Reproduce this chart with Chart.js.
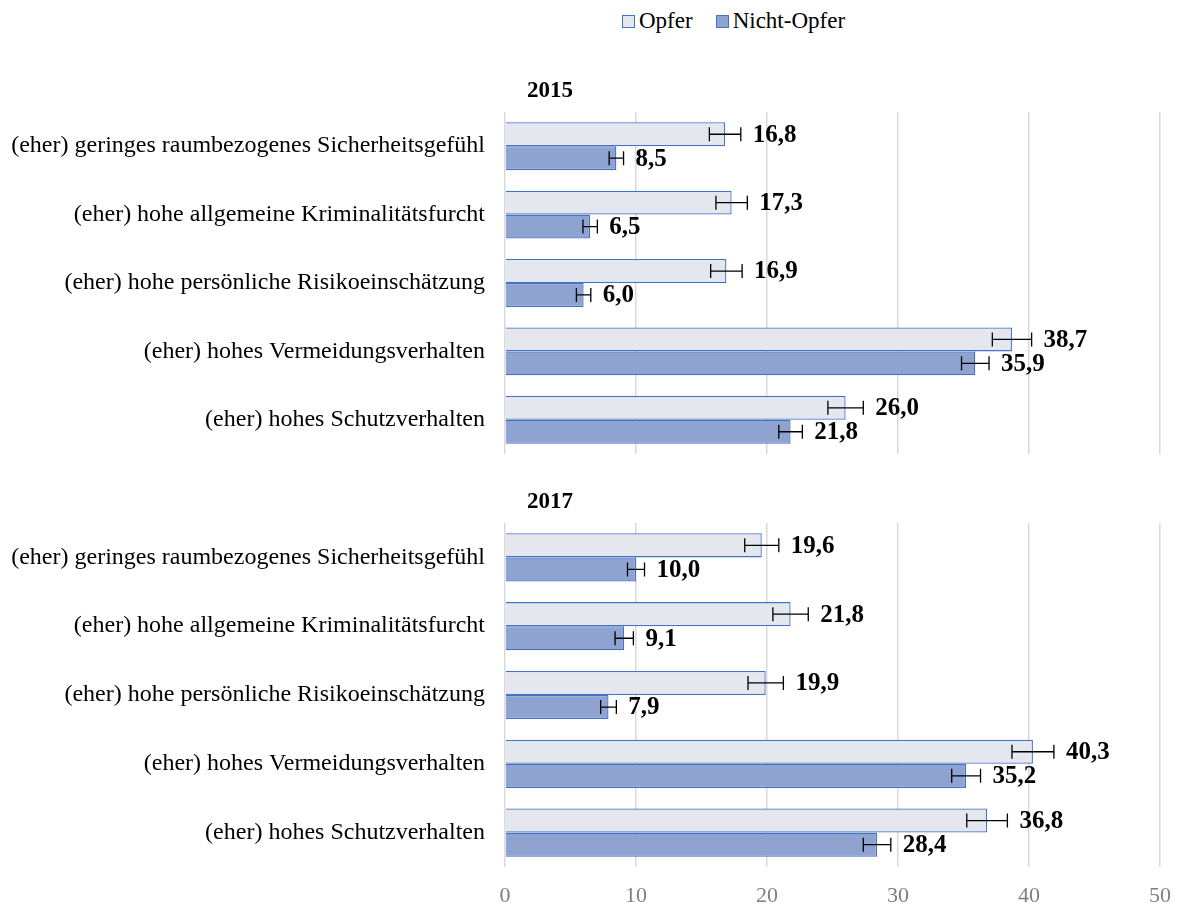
<!DOCTYPE html>
<html>
<head>
<meta charset="utf-8">
<script src="https://cdn.jsdelivr.net/npm/chart.js@4"></script>
<style>
  body { margin: 0; background: #fff; width: 1180px; height: 906px; position: relative; overflow: hidden; font-family: "Liberation Serif", serif; }
  .legend { position: absolute; top: 8px; left: 622px; font-size: 23px; display: flex; align-items: center; color: #000; }
  .legend .item { display: flex; align-items: center; margin-right: 23px; }
  .legend .box { width: 11px; height: 11px; border: 1px solid #4472c4; margin-right: 4px; }
  #top { position: absolute; left: 0; top: 60px; }
  #bottom { position: absolute; left: 0; top: 470px; }
</style>
</head>
<body>
<div class="legend">
  <div class="item"><span class="box" style="background:#e4e7ee"></span>Opfer</div>
  <div class="item"><span class="box" style="background:#8fa3d1"></span>Nicht-Opfer</div>
</div>
<canvas id="top" width="1180" height="433"></canvas>
<canvas id="bottom" width="1180" height="436"></canvas>
<script>
const categories = [
  "(eher) geringes raumbezogenes Sicherheitsgefühl",
  "(eher) hohe allgemeine Kriminalitätsfurcht",
  "(eher) hohe persönliche Risikoeinschätzung",
  "(eher) hohes Vermeidungsverhalten",
  "(eher) hohes Schutzverhalten",
];
const seriesNames = ["Opfer", "Nicht-Opfer"];
const xTicks = [0, 10, 20, 30, 40, 50];

// 2015
const opfer2015 = [16.8, 17.3, 16.9, 38.7, 26.0];
const opfer2015Err = [1.2, 1.2, 1.2, 1.5, 1.35];
const nicht2015 = [8.5, 6.5, 6.0, 35.9, 21.8];
const nicht2015Err = [0.55, 0.55, 0.55, 1.05, 0.9];

// 2017
const opfer2017 = [19.6, 21.8, 19.9, 40.3, 36.8];
const opfer2017Err = [1.3, 1.35, 1.35, 1.6, 1.55];
const nicht2017 = [10.0, 9.1, 7.9, 35.2, 28.4];
const nicht2017Err = [0.65, 0.7, 0.6, 1.1, 1.05];

const FONT = '"Liberation Serif", "Times New Roman", serif';

/* error bars + value labels + year heading */
const extras = {
  id: "extras",
  afterDatasetsDraw(chart, args, opts) {
    const ctx = chart.ctx;
    const xs = chart.scales.x;
    chart.data.datasets.forEach((ds, i) => {
      const meta = chart.getDatasetMeta(i);
      meta.data.forEach((bar, j) => {
        const v = ds.data[j];
        const e = ds.errors[j];
        const x1 = xs.getPixelForValue(v - e);
        const x2 = xs.getPixelForValue(v + e);
        const y = bar.y;
        const cap = 7;
        ctx.save();
        ctx.strokeStyle = "#000";
        ctx.lineWidth = 1.3;
        ctx.beginPath();
        ctx.moveTo(x1, y); ctx.lineTo(x2, y);
        ctx.moveTo(x1, y - cap); ctx.lineTo(x1, y + cap);
        ctx.moveTo(x2, y - cap); ctx.lineTo(x2, y + cap);
        ctx.stroke();
        ctx.font = "bold 25px " + FONT;
        ctx.fillStyle = "#000";
        ctx.textAlign = "left";
        ctx.textBaseline = "middle";
        ctx.fillText(v.toFixed(1).replace(".", ","), x2 + 12, y + 1);
        ctx.restore();
      });
    });
    ctx.save();
    ctx.font = "bold 23px " + FONT;
    ctx.fillStyle = "#000";
    ctx.textBaseline = "middle";
    ctx.fillText(opts.year, chart.chartArea.left + 22, chart.chartArea.top - 21);
    ctx.restore();
  },
};

function makeChart(id, year, opfer, opferErr, nicht, nichtErr, showTicks) {
  return new Chart(document.getElementById(id), {
    type: "bar",
    data: {
      labels: categories,
      datasets: [
        {
          label: seriesNames[0],
          data: opfer,
          errors: opferErr,
          backgroundColor: "#e4e7ee",
          borderColor: "#4472c4",
          borderWidth: 1.3,
        },
        {
          label: seriesNames[1],
          data: nicht,
          errors: nichtErr,
          backgroundColor: "#8fa3d1",
          borderColor: "#4472c4",
          borderWidth: 1.3,
        },
      ],
    },
    options: {
      indexAxis: "y",
      responsive: false,
      animation: false,
      categoryPercentage: 0.7,
      barPercentage: 1,
      layout: { padding: { top: showTicks ? 53 : 52, right: 20, left: 0, bottom: 0 } },
      plugins: {
        legend: { display: false },
        tooltip: { enabled: false },
        extras: { year: year },
      },
      scales: {
        x: {
          min: 0,
          max: 50,
          afterBuildTicks: (s) => { s.ticks = xTicks.map((v) => ({ value: v })); },
          afterFit: (s) => {
            s.height = 39;
            s.paddingLeft = 0;
            s.paddingRight = 0;
          },
          grid: { color: "#d9d9d9", lineWidth: 1.5, drawTicks: false },
          border: { display: false },
          ticks: {
            color: showTicks ? "#7f7f7f" : "rgba(0,0,0,0)",
            padding: 16,
            font: { family: FONT, size: 22 },
          },
        },
        y: {
          afterFit: (s) => { s.width = 505; },
          grid: { display: false, drawTicks: false },
          border: { display: false },
          ticks: {
            color: "#000",
            padding: 20,
            font: { family: FONT, size: 24 },
          },
        },
      },
    },
    plugins: [extras],
  });
}

makeChart("top", "2015", opfer2015, opfer2015Err, nicht2015, nicht2015Err, false);
makeChart("bottom", "2017", opfer2017, opfer2017Err, nicht2017, nicht2017Err, true);
</script>
</body>
</html>
